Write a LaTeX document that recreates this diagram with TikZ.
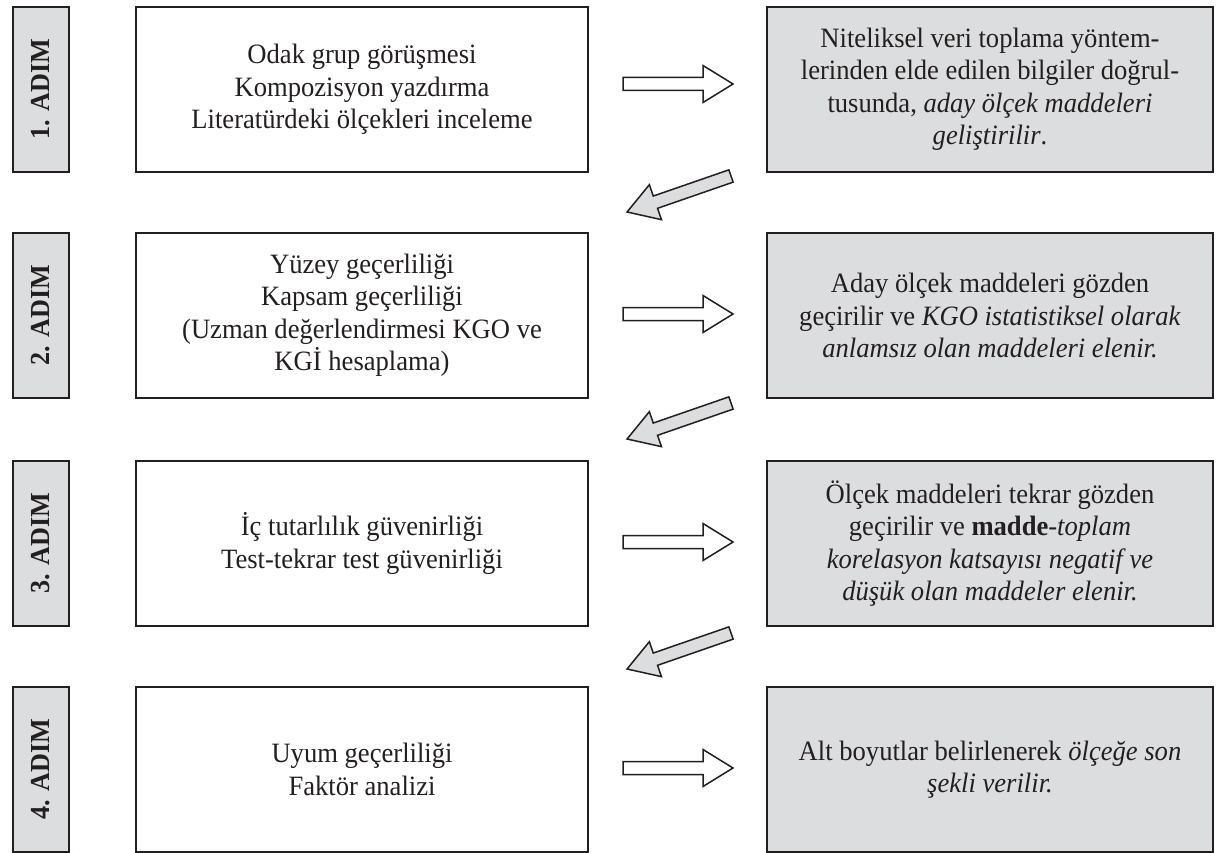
\documentclass[tikz,border=0pt]{standalone}
\usepackage{fontspec}
\setmainfont{Liberation Serif}[FakeStretch=0.95]
\definecolor{ink}{HTML}{231F20}
\definecolor{boxgray}{HTML}{DCDDDE}
\tikzset{
  mbox/.style={draw=ink, line width=2.6pt, fill=white, minimum width=452pt, minimum height=165pt,
    align=center, text=ink, inner sep=0pt, font=\fontsize{28}{32.5}\selectfont},
  rbox/.style={mbox, fill=boxgray, minimum width=446pt},
  lbox/.style={draw=ink, line width=1.6pt, fill=boxgray, minimum width=165pt, minimum height=56pt,
    rotate=90, text=ink, inner sep=0pt, font=\fontsize{27.5}{30}\selectfont\bfseries},
  harrow/.style={draw=ink, line width=1.5pt, fill=white, line join=miter},
  darrow/.style={draw=ink, line width=1.5pt, fill=boxgray, line join=miter}
}
\begin{document}
\begin{tikzpicture}[x=1pt,y=-1pt]
\useasboundingbox (0,0) rectangle (1220,853);
% step labels
\node[lbox] (s1) at (41,89.5) {1. ADIM};
\node[lbox] (s2) at (41,315.5) {2. ADIM};
\node[lbox] (s3) at (41,543.5) {3. ADIM};
\node[lbox] (s4) at (41,769.5) {4. ADIM};
% middle boxes
\node[mbox] (m1) at (362,89.5) {Odak grup görüşmesi\\ Kompozisyon yazdırma\\ Literatürdeki ölçekleri inceleme};
\node[mbox] (m2) at (362,315.5) {Yüzey geçerliliği\\ Kapsam geçerliliği\\ (Uzman değerlendirmesi KGO ve\\ KGİ hesaplama)};
\node[mbox] (m3) at (362,543.5) {İç tutarlılık güvenirliği\\ Test-tekrar test güvenirliği};
\node[mbox] (m4) at (362,769.5) {Uyum geçerliliği\\ Faktör analizi};
% right boxes
\node[rbox] (r1) at (990,89.5) {Niteliksel veri toplama yöntem-\\ lerinden elde edilen bilgiler doğrul-\\ tusunda, \textit{aday ölçek maddeleri}\\ \textit{geliştirilir}.};
\node[rbox] (r2) at (990,315.5) {Aday ölçek maddeleri gözden\\ geçirilir ve \textit{KGO istatistiksel olarak}\\ \textit{anlamsız olan maddeleri elenir.}};
\node[rbox] (r3) at (990,543.5) {Ölçek maddeleri tekrar gözden\\ geçirilir ve \textbf{madde}-\textit{toplam}\\ \textit{korelasyon katsayısı negatif ve}\\ \textit{düşük olan maddeler elenir.}};
\node[rbox] (r4) at (990,769.5) {Alt boyutlar belirlenerek \textit{ölçeğe son}\\ \textit{şekli verilir.}};
% horizontal hollow arrows
\foreach \yy in {84,314,542,768}{
  \draw[harrow, shift={(0,\yy)}] (623,-6.5) -- (703,-6.5) -- (703,-18.5) -- (733,0)
     -- (703,18.5) -- (703,6.5) -- (623,6.5) -- cycle;
}
% diagonal gray arrows
\foreach \yy in {176,403,633}{
  \draw[darrow, shift={(731,\yy)}, rotate=199.1] (0,-6.5) -- (80,-6.5) -- (80,-18.5) -- (110,0)
     -- (80,18.5) -- (80,6.5) -- (0,6.5) -- cycle;
}
\end{tikzpicture}
\end{document}
